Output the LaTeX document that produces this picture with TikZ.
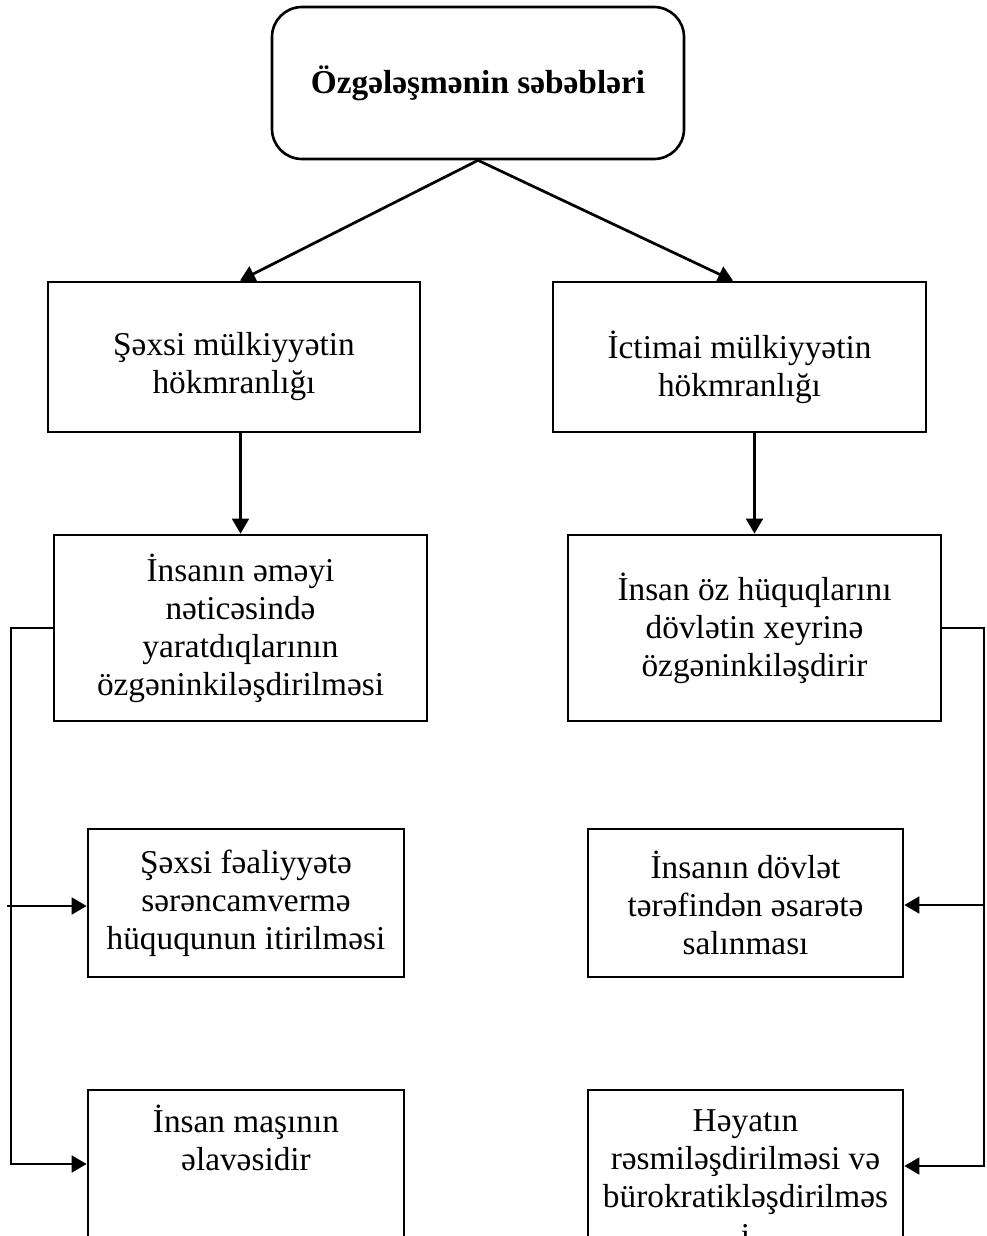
\documentclass[tikz,border=0pt]{standalone}
\usepackage{fontspec}
\setmainfont{Liberation Serif}
\usetikzlibrary{arrows.meta}
\begin{document}
\begin{tikzpicture}[x=0.42pt,y=-0.42pt,
  box/.style={draw,line width=1.1pt,align=center,inner sep=0pt,font=\fontsize{14}{16}\selectfont},
  conn/.style={line width=1.15pt},
  arr/.style={conn,-{Triangle[length=6.3pt,width=7pt]}}]
\useasboundingbox (0,0) rectangle (987,1236);
\clip (0,0) rectangle (987,1236);
\fill[white] (0,0) rectangle (987,1236);

% top
\node[box, rounded corners=12.6pt, minimum width=412*0.42pt, minimum height=152*0.42pt,
      font=\fontsize{14}{16}\selectfont\bfseries] (top) at (478,83) {Özgələşmənin səbəbləri};

% row 1
\node[box, minimum width=372*0.42pt, minimum height=150*0.42pt] (l1) at (234,357)
  {\rule{0pt}{18pt}Şəxsi mülkiyyətin\\hökmranlığı};
\node[box, minimum width=373*0.42pt, minimum height=150*0.42pt] (r1) at (739.5,357)
  {\rule{0pt}{20pt}İctimai mülkiyyətin\\hökmranlığı};

% row 2
\node[box, minimum width=373*0.42pt, minimum height=186*0.42pt] (l2) at (240.5,628)
  {İnsanın əməyi\\nəticəsində\\yaratdıqlarının\\özgəninkiləşdirilməsi};
\node[box, minimum width=373*0.42pt, minimum height=186*0.42pt] (r2) at (754.5,628)
  {İnsan öz hüquqlarını\\dövlətin xeyrinə\\özgəninkiləşdirir};

% row 3
\node[box, minimum width=316*0.42pt, minimum height=148*0.42pt] (l3) at (246,903)
  {Şəxsi fəaliyyətə\\sərəncamvermə\\hüququnun itirilməsi};
\node[box, minimum width=315*0.42pt, minimum height=148*0.42pt] (r3) at (745.5,903)
  {İnsanın dövlət\\tərəfindən əsarətə\\salınması};

% row 4 (cut by the page edge)
\node[box, minimum width=316*0.42pt, minimum height=172*0.42pt] (l4) at (246,1176)
  {İnsan maşının\\əlavəsidir\\\mbox{}\\\mbox{}};
\node[box, minimum width=315*0.42pt, minimum height=176*0.42pt] (r4) at (745.5,1178)
  {Həyatın\\rəsmiləşdirilməsi və\\bürokratikləşdirilməs\\i};

% connectors from top
\draw[arr] (top.south) -- ([xshift=2.5pt]l1.north);
\draw[arr] (top.south) -- ([xshift=-2.7pt]r1.north);
\draw[arr] (l1.south -| l2.north) -- (l2.north);
\draw[arr] (r1.south -| r2.north) -- (r2.north);

% left bus
\coordinate (lb) at (11,1164);
\coordinate (lm) at (7,906);
\draw[arr] (l2.west) -| (lb) -- (lb -| l4.west);
\draw[arr] (lm) -- (lm -| l3.west);

% right bus
\coordinate (rb) at (984,1166);
\coordinate (rm) at (984,905);
\draw[arr] (r2.east) -| (rb) -- (rb -| r4.east);
\draw[arr] (rm) -- (rm -| r3.east);
\end{tikzpicture}
\end{document}
